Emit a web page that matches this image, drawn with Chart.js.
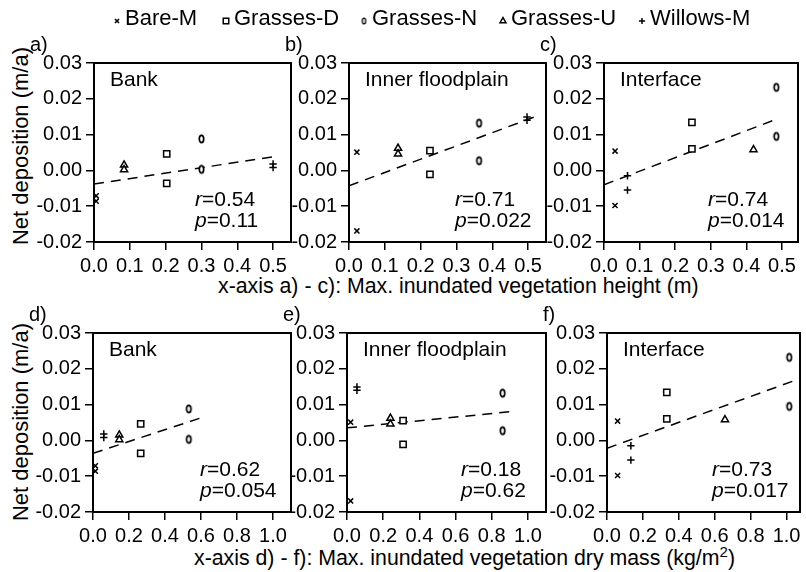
<!DOCTYPE html>
<html>
<head>
<meta charset="utf-8">
<script src="https://cdn.jsdelivr.net/npm/chart.js@4.4.1/dist/chart.umd.min.js"></script>
<style>
  body { margin: 0; background: #fff; }
  #wrap { position: relative; width: 806px; height: 572px; overflow: hidden; background: #fff;
          font-family: "Liberation Sans", Arial, Helvetica, sans-serif; color: #000; }
  canvas.panel { position: absolute; }
  .txt { position: absolute; white-space: nowrap; font-size: 22px; line-height: 1; }
  .xtitle { font-size: 21.3px; }
  .ytitle { transform: translate(-50%, -50%) rotate(-90deg); }
  .leg { position: absolute; top: 7px; display: flex; align-items: flex-start; font-size: 22px; line-height: 1; white-space: nowrap; }
  .leg canvas { margin-top: 9px; margin-right: 3px; }
  sup { font-size: 15px; line-height: 0; }
</style>
</head>
<body>
<div id="wrap">
  <div class="txt ytitle" style="left:21px; top:146px;">Net deposition (m/a)</div>
  <div class="txt ytitle" style="left:21px; top:422px;">Net deposition (m/a)</div>
  <div class="txt xtitle" style="left:218px; top:276px;">x-axis a) - c): Max. inundated vegetation height (m)</div>
  <div class="txt xtitle" style="left:194px; top:548px;">x-axis d) - f): Max. inundated vegetation dry mass (kg/m<sup>2</sup>)</div>
</div>
<script>
// ---- data -------------------------------------------------------------
const seriesNames = ['Bare-M', 'Grasses-D', 'Grasses-N', 'Grasses-U', 'Willows-M'];

// Bank
const bankGroups     = ['Bare-M', 'Bare-M', 'Grasses-U', 'Grasses-U', 'Grasses-D', 'Grasses-D', 'Grasses-N', 'Grasses-N', 'Willows-M', 'Willows-M'];
const bankDeposition = [-0.0071, -0.0086, 0.0015, 0.0002, 0.0046, -0.0036, 0.0088, 0.0003, 0.0018, 0.0008];
const bankHeight     = [0.006, 0.006, 0.084, 0.084, 0.203, 0.203, 0.30, 0.30, 0.50, 0.50];
const bankDryMass    = [0.013, 0.013, 0.146, 0.146, 0.265, 0.265, 0.532, 0.532, 0.06, 0.06];

// Inner floodplain
const innerGroups     = ['Bare-M', 'Bare-M', 'Grasses-U', 'Grasses-U', 'Grasses-D', 'Grasses-D', 'Grasses-N', 'Grasses-N', 'Willows-M', 'Willows-M'];
const innerDeposition = [0.0051, -0.0169, 0.0062, 0.0046, 0.0055, -0.0011, 0.0132, 0.0027, 0.0149, 0.0140];
const innerHeight     = [0.022, 0.022, 0.137, 0.137, 0.226, 0.226, 0.363, 0.363, 0.497, 0.497];
const innerDryMass    = [0.02, 0.02, 0.24, 0.24, 0.31, 0.31, 0.86, 0.86, 0.055, 0.055];

// Interface
const ifaceGroups     = ['Bare-M', 'Bare-M', 'Willows-M', 'Willows-M', 'Grasses-D', 'Grasses-D', 'Grasses-U', 'Grasses-N', 'Grasses-N'];
const ifaceDeposition = [0.0054, -0.0098, -0.0015, -0.0055, 0.0134, 0.0060, 0.0058, 0.0232, 0.0095];
const ifaceHeight     = [0.031, 0.031, 0.066, 0.066, 0.247, 0.247, 0.42, 0.484, 0.484];
const ifaceDryMass    = [0.059, 0.059, 0.133, 0.133, 0.333, 0.333, 0.657, 1.015, 1.015];

// dashed regression lines (end points)
const fitA = [[0, -0.0038], [0.50, 0.0038]];
const fitB = [[0, -0.0043], [0.52, 0.0150]];
const fitC = [[0, -0.0040], [0.49, 0.0145]];
const fitD = [[0, -0.0036], [0.60, 0.0063]];
const fitE = [[0, 0.0035], [0.90, 0.0080]];
const fitF = [[0, -0.0022], [1.05, 0.0168]];

const panelLetters = ['a)', 'b)', 'c)', 'd)', 'e)', 'f)'];
const siteNames = ['Bank', 'Inner floodplain', 'Interface'];
const rValues = ['0.54', '0.71', '0.74', '0.62', '0.18', '0.73'];
const pValues = ['0.11', '0.022', '0.014', '0.054', '0.62', '0.017'];
const yTicks = { min: -0.02, max: 0.03, step: 0.01 };

// ---- styling ----------------------------------------------------------
const FONT = '"Liberation Sans", Arial, Helvetica, sans-serif';

function ellipseMarker(rx, ry, lw) {
  const c = document.createElement('canvas');
  c.width = Math.ceil(2 * rx + lw + 2);
  c.height = Math.ceil(2 * ry + lw + 2);
  const g = c.getContext('2d');
  g.lineWidth = lw;
  g.strokeStyle = '#000';
  g.fillStyle = '#fff';
  g.beginPath();
  g.ellipse(c.width / 2, c.height / 2, rx, ry, 0, 0, Math.PI * 2);
  g.fill();
  g.stroke();
  return c;
}

const markers = {
  'Bare-M':    { style: 'crossRot', r: 3.6 },
  'Grasses-D': { style: 'rect', r: 4.4 },
  'Grasses-N': { style: ellipseMarker(2.2, 3.7, 1.7), r: 4 },
  'Grasses-U': { style: 'triangle', r: 4.1 },
  'Willows-M': { style: 'cross', r: 3.7 }
};
const legendMarkers = {
  'Bare-M':    { style: 'crossRot', r: 2.9 },
  'Grasses-D': { style: 'rect', r: 3.9 },
  'Grasses-N': { style: ellipseMarker(1.7, 2.9, 1.3), r: 3 },
  'Grasses-U': { style: 'triangle', r: 3.4 },
  'Willows-M': { style: 'cross', r: 3.1 }
};

// canvas box and plot area [left, top, right, bottom] in page pixels
const layout = [
  { x: 0,   y: 28,  w: 300, h: 250, area: [94, 63, 291, 242],   xMax: 0.55,  step: 0.1, rpDx: 101 },
  { x: 270, y: 28,  w: 285, h: 250, area: [349, 63, 546, 242],  xMax: 0.55,  step: 0.1, rpDx: 106 },
  { x: 525, y: 28,  w: 281, h: 250, area: [604, 63, 798, 242],  xMax: 0.545, step: 0.1, rpDx: 104 },
  { x: 0,   y: 298, w: 300, h: 250, area: [93, 333, 291, 512],  xMax: 1.1,   step: 0.2, rpDx: 107 },
  { x: 270, y: 298, w: 285, h: 250, area: [347, 333, 546, 512], xMax: 1.1,   step: 0.2, rpDx: 114 },
  { x: 525, y: 298, w: 281, h: 250, area: [607, 333, 800, 512], xMax: 1.075, step: 0.2, rpDx: 105 }
];

const panelData = [
  { groups: bankGroups,  xs: bankHeight,   ys: bankDeposition,  fit: fitA, site: 0 },
  { groups: innerGroups, xs: innerHeight,  ys: innerDeposition, fit: fitB, site: 1 },
  { groups: ifaceGroups, xs: ifaceHeight,  ys: ifaceDeposition, fit: fitC, site: 2 },
  { groups: bankGroups,  xs: bankDryMass,  ys: bankDeposition,  fit: fitD, site: 0 },
  { groups: innerGroups, xs: innerDryMass, ys: innerDeposition, fit: fitE, site: 1 },
  { groups: ifaceGroups, xs: ifaceDryMass, ys: ifaceDeposition, fit: fitF, site: 2 }
];

// frame + panel annotations
const panelDecor = {
  id: 'panelDecor',
  afterDraw(chart, args, o) {
    const { ctx, chartArea: a } = chart;
    ctx.save();
    ctx.strokeStyle = '#000';
    ctx.lineWidth = 2;
    ctx.strokeRect(a.left, a.top, a.right - a.left, a.bottom - a.top);
    ctx.fillStyle = '#000';
    ctx.textBaseline = 'alphabetic';
    ctx.textAlign = 'left';
    ctx.font = '20px ' + FONT;
    ctx.fillText(o.letter, a.left - 64, a.top - 12);
    ctx.font = '21px ' + FONT;
    ctx.fillText(o.site, a.left + 16, a.top + 23);
    const x0 = a.left + o.rpDx;
    [['r', o.r, a.bottom - 36], ['p', o.p, a.bottom - 15]].forEach(([sym, val, y]) => {
      ctx.font = 'italic 21px ' + FONT;
      ctx.fillText(sym, x0, y);
      const w = ctx.measureText(sym).width;
      ctx.font = '21px ' + FONT;
      ctx.fillText('=' + val, x0 + w, y);
    });
    ctx.restore();
  }
};

const wrap = document.getElementById('wrap');

layout.forEach((L, i) => {
  const P = panelData[i];
  const cv = document.createElement('canvas');
  cv.className = 'panel';
  cv.width = L.w;
  cv.height = L.h;
  cv.style.left = L.x + 'px';
  cv.style.top = L.y + 'px';
  wrap.appendChild(cv);

  const datasets = seriesNames.map(name => ({
    label: name,
    data: P.xs.map((x, k) => ({ x: x, y: P.ys[k], g: P.groups[k] })).filter(d => d.g === name),
    pointStyle: markers[name].style,
    pointRadius: markers[name].r,
    pointBorderWidth: 1.5,
    borderColor: '#000',
    backgroundColor: '#fff'
  }));
  datasets.push({
    label: 'fit',
    data: P.fit.map(([x, y]) => ({ x: x, y: y })),
    showLine: true,
    borderColor: '#000',
    borderWidth: 1.5,
    borderDash: [10, 7],
    pointRadius: 0
  });

  const tickFont = { size: 20, family: FONT };
  new Chart(cv, {
    type: 'scatter',
    data: { datasets: datasets },
    options: {
      responsive: false,
      animation: false,
      devicePixelRatio: 1,
      events: [],
      layout: { padding: { left: 0, top: L.area[1] - L.y, right: L.x + L.w - L.area[2], bottom: 0 } },
      plugins: {
        legend: { display: false },
        tooltip: { enabled: false },
        panelDecor: { letter: panelLetters[i], site: siteNames[P.site], r: rValues[i], p: pValues[i], rpDx: L.rpDx }
      },
      scales: {
        x: {
          type: 'linear',
          min: 0,
          max: L.xMax,
          afterFit(s) { s.height = L.y + L.h - L.area[3]; },
          ticks: { stepSize: L.step, includeBounds: false, autoSkip: false, maxRotation: 0,
                   callback: v => v.toFixed(1), font: tickFont, color: '#000', padding: 4 },
          grid: { drawOnChartArea: false, color: '#000', lineWidth: 1.5, tickLength: 8 },
          border: { color: '#000', width: 2 }
        },
        y: {
          type: 'linear',
          min: yTicks.min,
          max: yTicks.max,
          afterFit(s) { s.width = L.area[0] - L.x; },
          ticks: { stepSize: yTicks.step, autoSkip: false,
                   callback: v => (Math.abs(v) < 1e-9 ? 0 : v).toFixed(2), font: tickFont, color: '#000', padding: 4 },
          grid: { drawOnChartArea: false, color: '#000', lineWidth: 1.5, tickLength: 8 },
          border: { color: '#000', width: 2 }
        }
      }
    },
    plugins: [panelDecor]
  });
});

// legend across the top
const legendX = [112, 221, 359, 498, 637];
seriesNames.forEach((name, i) => {
  const item = document.createElement('div');
  item.className = 'leg';
  item.style.left = legendX[i] + 'px';
  const c = document.createElement('canvas');
  c.width = 10;
  c.height = 10;
  const g = c.getContext('2d');
  g.strokeStyle = '#000';
  g.fillStyle = '#fff';
  g.lineWidth = 1.5;
  Chart.helpers.drawPoint(g, { pointStyle: legendMarkers[name].style, radius: legendMarkers[name].r, rotation: 0, borderWidth: 1.5 }, 5, 5);
  const t = document.createElement('span');
  t.textContent = name;
  item.appendChild(c);
  item.appendChild(t);
  wrap.appendChild(item);
});
</script>
</body>
</html>
